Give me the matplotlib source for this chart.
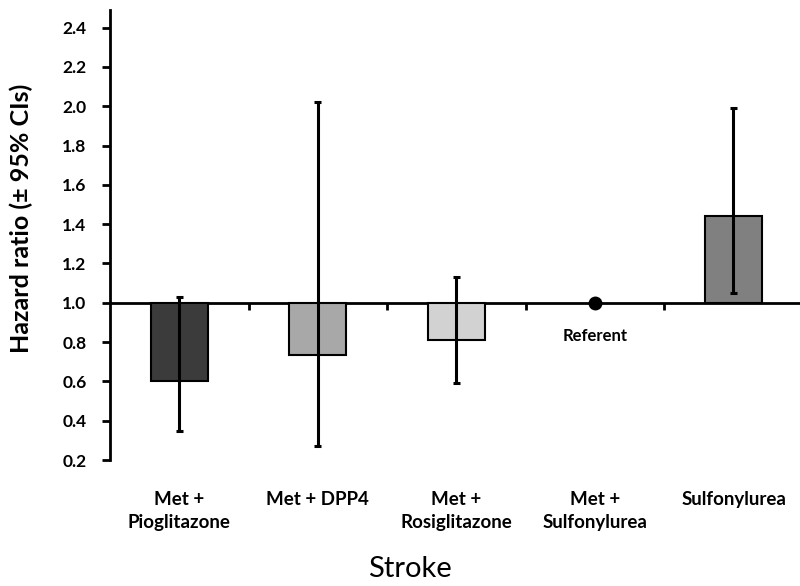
import matplotlib
matplotlib.use("Agg")
import matplotlib.pyplot as plt
import numpy as np

categories = ["Met +\nPioglitazone", "Met + DPP4", "Met +\nRosiglitazone", "Met +\nSulfonylurea", "Sulfonylurea"]
hazard = [0.60, 0.735, 0.81, 1.00, 1.44]
ci_low = [0.35, 0.27, 0.59, 1.00, 1.05]
ci_high = [1.03, 2.02, 1.13, 1.00, 1.99]
bar_colors = ["#3b3b3b", "#a8a8a8", "#d2d2d2", None, "#808080"]
yticks = [0.2, 0.4, 0.6, 0.8, 1.0, 1.2, 1.4, 1.6, 1.8, 2.0, 2.2, 2.4]
referent_idx = 3

plt.rcParams['font.family'] = ['Lato', 'DejaVu Sans']

fig = plt.figure(figsize=(8, 5.86), dpi=100)
ax = fig.add_axes([0.1375, 0.215, 0.8625, 0.768])

x = np.arange(1, len(categories) + 1)
for i, (xi, h, c) in enumerate(zip(x, hazard, bar_colors)):
    if i == referent_idx:
        continue
    ax.bar(xi, h - 1.0, bottom=1.0, width=0.41, color=c, edgecolor="black", linewidth=1.5, zorder=2)
    ax.vlines(xi, ci_low[i], ci_high[i], color="black", linewidth=2.2, zorder=3)
    ax.hlines([ci_low[i], ci_high[i]], xi - 0.025, xi + 0.025, color="black", linewidth=2.2, zorder=3)

ax.plot(x[referent_idx], hazard[referent_idx], "o", color="black", markersize=9, zorder=4)
ax.text(x[referent_idx], 0.83, "Referent", ha="center", va="center", fontsize=12, fontweight="bold")

ax.axhline(1.0, color="black", linewidth=2, zorder=1)
# small separator ticks along the reference line
ax.vlines(x[:-1] + 0.5, 0.965, 1.0, color="black", linewidth=2, zorder=1)

ax.set_xlim(0.5, 5.48)
ax.set_ylim(0.2, 2.49)
ax.set_yticks(yticks)
ax.set_yticklabels([f"{v:.1f}" for v in yticks], fontsize=12.5, fontweight="bold")
ax.set_xticks(x)
ax.set_xticklabels(categories, fontsize=13.5, fontweight="bold", linespacing=1.45, va="top")
ax.tick_params(axis="x", length=0, pad=22)
ax.tick_params(axis="y", direction="out", length=6, width=2, pad=11)

for s in ["top", "right", "bottom"]:
    ax.spines[s].set_visible(False)
ax.spines["left"].set_linewidth(2)

ax.set_ylabel("Hazard ratio (± 95% CIs)", fontsize=18, fontweight="bold")
ax.yaxis.set_label_coords(-0.112, 0.538)
fig.text(410 / 800, 1 - 569 / 586, "Stroke", ha="center", va="center", fontsize=21)

fig.savefig("out.png", dpi=100)
